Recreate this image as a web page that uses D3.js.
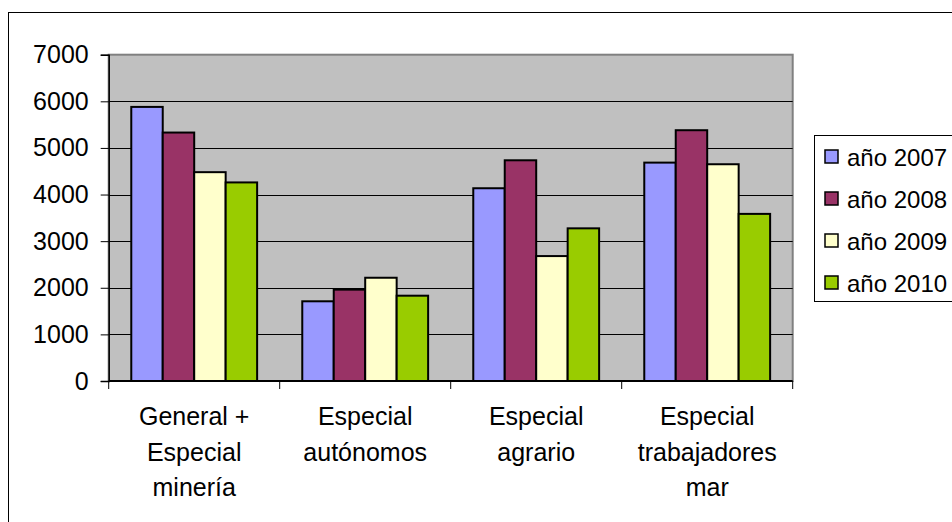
<!DOCTYPE html>
<html>
<head>
<meta charset="utf-8">
<script src="https://cdn.jsdelivr.net/npm/d3@7"></script>
<style>
  html, body { margin: 0; padding: 0; background: #fff; }
  svg { display: block; }
  text { font-family: "Liberation Sans", Arial, sans-serif; fill: #000; }
</style>
</head>
<body>
<svg id="chart" width="952" height="522"></svg>
<script>
const categories = [
  ["General +", "Especial", "minería"],
  ["Especial", "autónomos"],
  ["Especial", "agrario"],
  ["Especial", "trabajadores", "mar"]
];
const seriesNames = ["año 2007", "año 2008", "año 2009", "año 2010"];
const seriesColors = ["#9999FF", "#993366", "#FFFFCC", "#99CC00"];
const values2007 = [5880, 1710, 4135, 4685];
const values2008 = [5330, 1960, 4735, 5380];
const values2009 = [4480, 2215, 2680, 4650];
const values2010 = [4260, 1830, 3275, 3585];
const yTicks = [0, 1000, 2000, 3000, 4000, 5000, 6000, 7000];

const seriesValues = [values2007, values2008, values2009, values2010];

const svg = d3.select("#chart");
const W = 952, H = 522;

// outer chart frame
svg.append("rect")
  .attr("x", 8.5).attr("y", 12.5)
  .attr("width", W + 20).attr("height", H + 20)
  .attr("fill", "#fff").attr("stroke", "#000").attr("stroke-width", 1);

const plot = { left: 108.7, right: 792.7, top: 54.7, bottom: 381 };

const y = d3.scaleLinear().domain([0, 7000]).range([plot.bottom, plot.top]);
const catIdx = d3.range(categories.length);
const x0 = d3.scaleBand().domain(catIdx).range([plot.left, plot.right])
  .paddingInner(0.264).paddingOuter(0.132);
const x1 = d3.scaleBand().domain(d3.range(seriesNames.length)).range([0, x0.bandwidth()]);

// plot background
svg.append("rect")
  .attr("x", plot.left).attr("y", plot.top)
  .attr("width", plot.right - plot.left).attr("height", plot.bottom - plot.top)
  .attr("fill", "#C0C0C0").attr("stroke", "#808080").attr("stroke-width", 2);

// gridlines
svg.append("g").selectAll("line")
  .data(yTicks.filter(t => t > 0 && t < 7000))
  .join("line")
  .attr("x1", plot.left).attr("x2", plot.right)
  .attr("y1", d => Math.round(y(d)) + 0.5).attr("y2", d => Math.round(y(d)) + 0.5)
  .attr("stroke", "#000").attr("stroke-width", 1);

// bars
const groups = svg.append("g").selectAll("g")
  .data(catIdx)
  .join("g")
  .attr("transform", i => `translate(${x0(i)},0)`);

groups.selectAll("rect")
  .data(i => seriesValues.map((vals, s) => ({ s, v: vals[i] })))
  .join("rect")
  .attr("x", d => x1(d.s))
  .attr("y", d => y(d.v))
  .attr("width", x1.bandwidth())
  .attr("height", d => y(0) - y(d.v))
  .attr("fill", d => seriesColors[d.s])
  .attr("stroke", "#000").attr("stroke-width", 2);

// y axis
const yAxis = d3.axisLeft(y).tickValues(yTicks).tickSize(8).tickPadding(12).tickFormat(d3.format("d"));
const yg = svg.append("g").attr("transform", `translate(${plot.left},0)`).call(yAxis);
yg.select(".domain").attr("stroke", "#000").attr("stroke-width", 1.5);
yg.selectAll(".tick line").attr("stroke", "#000");
yg.selectAll(".tick text").attr("font-size", 25).attr("font-family", "Liberation Sans, Arial, sans-serif").attr("fill", "#000");

// x axis: tick marks at category boundaries
const boundaries = d3.range(categories.length + 1).map(i => plot.left + i * x0.step());
const xg = svg.append("g");
xg.append("line")
  .attr("x1", plot.left).attr("x2", plot.right)
  .attr("y1", plot.bottom).attr("y2", plot.bottom)
  .attr("stroke", "#000").attr("stroke-width", 2);
xg.selectAll("line.tk").data(boundaries).join("line").attr("class", "tk")
  .attr("x1", d => d).attr("x2", d => d)
  .attr("y1", plot.bottom).attr("y2", plot.bottom + 8)
  .attr("stroke", "#000").attr("stroke-width", 1);

// category labels
const labels = svg.append("g").selectAll("text")
  .data(catIdx)
  .join("text")
  .attr("text-anchor", "middle")
  .attr("font-size", 25)
  .attr("x", i => x0(i) + x0.bandwidth() / 2)
  .attr("y", 425);
labels.selectAll("tspan")
  .data(i => categories[i])
  .join("tspan")
  .attr("x", function() { return d3.select(this.parentNode).attr("x"); })
  .attr("dy", (d, k) => k === 0 ? 0 : 35.5)
  .text(d => d);

// legend
const lg = svg.append("g");
lg.append("rect")
  .attr("x", 814.5).attr("y", 135.5)
  .attr("width", 200).attr("height", 166)
  .attr("fill", "#fff").attr("stroke", "#000").attr("stroke-width", 1);
const items = lg.selectAll("g.item").data(seriesNames).join("g").attr("class", "item")
  .attr("transform", (d, i) => `translate(0,${157 + i * 42})`);
items.append("rect")
  .attr("x", 825).attr("y", -7).attr("width", 13).attr("height", 13)
  .attr("fill", (d, i) => seriesColors[i]).attr("stroke", "#000").attr("stroke-width", 1.5);
items.append("text")
  .attr("x", 847).attr("y", 9)
  .attr("font-size", 24)
  .text(d => d);
</script>
</body>
</html>
